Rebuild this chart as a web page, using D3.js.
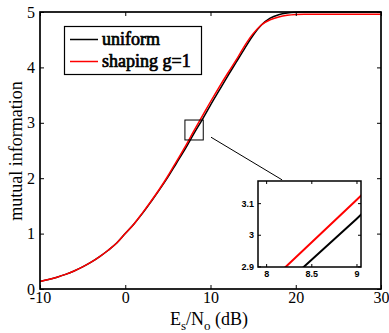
<!DOCTYPE html>
<html>
<head>
<meta charset="utf-8">
<script src="https://cdn.jsdelivr.net/npm/d3@7"></script>
<style>
  body { margin: 0; background: #fff; }
  svg { display: block; }
  .serif { font-family: 'Liberation Serif', 'Times New Roman', Times, serif; }
  .insetfont { font-family: 'Liberation Sans', Arial, Helvetica, sans-serif; font-weight: bold; }
</style>
</head>
<body>
<figure id="mi" style="margin:0"></figure>
<script>
// Es/N0 grid (dB) and mutual information
var snr = [-10, -9, -8, -7, -6, -5, -4, -3, -2, -1, 0, 1, 2, 3, 4, 5, 6, 7, 8, 9, 10,
           11, 12, 13, 14, 15, 16, 17, 18, 19, 20, 21, 22, 23, 24, 25, 26, 27, 28, 29, 30];
var uniform = [0.137, 0.17, 0.213, 0.264, 0.326, 0.40, 0.485, 0.585, 0.70, 0.83, 1.0,
               1.17, 1.36, 1.57, 1.79, 2.02, 2.27, 2.52, 2.79, 3.05, 3.32,
               3.58, 3.84, 4.09, 4.34, 4.58, 4.77, 4.89, 4.95, 4.98, 4.995,
               5.0, 5.0, 5.0, 5.0, 5.0, 5.0, 5.0, 5.0, 5.0, 5.0];
var shaping = [0.137, 0.17, 0.213, 0.264, 0.326, 0.40, 0.485, 0.585, 0.70, 0.83, 1.0,
               1.17, 1.37, 1.58, 1.80, 2.04, 2.30, 2.56, 2.84, 3.11, 3.38,
               3.64, 3.89, 4.13, 4.39, 4.61, 4.77, 4.86, 4.91, 4.94, 4.955,
               4.96, 4.96, 4.96, 4.96, 4.96, 4.96, 4.96, 4.96, 4.96, 4.96];
var seriesNames = ['uniform', 'shaping g=1'];
var seriesColors = ['#000000', '#ff0000'];

var xTicks = [-10, 0, 10, 20, 30];
var yTicks = [0, 1, 2, 3, 4, 5];
var insetXTicks = [8, 8.5, 9];
var insetYTicks = [2.9, 3, 3.1];

// zoom box drawn on the main plot and its pointer line (data units)
var zoomBox = {x0: 7.0, x1: 9.15, y0: 2.69, y1: 3.05};
var pointer = [[10.06, 2.74], [18.4, 1.97]];

var plain = function(d) { return String(d); };

var svg = d3.select('figure#mi').append('svg')
  .attr('width', 389)
  .attr('height', 333);
svg.append('rect').attr('width', 389).attr('height', 333).attr('fill', '#fff');

var x = d3.scaleLinear().domain([-10, 30]).range([40, 381]);
var y = d3.scaleLinear().domain([0, 5]).range([289, 12]);

svg.append('clipPath').attr('id', 'clipMain')
  .append('rect').attr('x', 40).attr('y', 10).attr('width', 341).attr('height', 279);

var data = seriesNames.map(function(name, i) {
  var vals = i == 0 ? uniform : shaping;
  return snr.map(function(s, j) { return {x: s, y: vals[j]}; });
});

var line = d3.line()
  .x(function(d) { return x(d.x); })
  .y(function(d) { return y(d.y); })
  .curve(d3.curveMonotoneX);

svg.append('g').attr('clip-path', 'url(#clipMain)')
  .selectAll('path')
  .data(data)
  .enter().append('path')
    .attr('d', line)
    .attr('fill', 'none')
    .attr('stroke', function(d, i) { return seriesColors[i]; })
    .attr('stroke-width', 1.5);

// axes, ticks pointing inwards
function styleAxis(g) {
  g.attr('font-family', null).attr('font-size', null);
  g.select('.domain').remove();
  g.selectAll('.tick line').attr('stroke', '#000').attr('stroke-width', 1);
  g.selectAll('text').classed('serif', true).style('font-size', '16px').attr('fill', '#000');
}
svg.append('g').attr('transform', 'translate(0,289)')
  .call(d3.axisBottom(x).tickValues(xTicks).tickSize(-4).tickPadding(3).tickFormat(plain))
  .call(styleAxis);
svg.append('g').attr('transform', 'translate(0,12)')
  .call(d3.axisTop(x).tickValues(xTicks).tickSize(-4).tickFormat(''))
  .call(styleAxis);
svg.append('g').attr('transform', 'translate(40,0)')
  .call(d3.axisLeft(y).tickValues(yTicks).tickSize(-4).tickPadding(5).tickFormat(plain))
  .call(styleAxis);
svg.append('g').attr('transform', 'translate(381,0)')
  .call(d3.axisRight(y).tickValues(yTicks).tickSize(-4).tickFormat(''))
  .call(styleAxis);

svg.append('rect')
  .attr('x', 40).attr('y', 12).attr('width', 341).attr('height', 277)
  .attr('fill', 'none').attr('stroke', '#000').attr('stroke-width', 1.7);

// axis labels
var xl = svg.append('text')
  .classed('serif', true)
  .attr('x', 209).attr('y', 325)
  .attr('text-anchor', 'middle')
  .style('font-size', '18px');
xl.append('tspan').text('E');
xl.append('tspan').attr('dy', 5).style('font-size', '13px').text('s');
xl.append('tspan').attr('dy', -5).text('/N');
xl.append('tspan').attr('dy', 5).style('font-size', '13px').text('o');
xl.append('tspan').attr('dy', -5).text(' (dB)');

svg.append('text')
  .classed('serif', true)
  .attr('transform', 'translate(22,151) rotate(-90)')
  .attr('text-anchor', 'middle')
  .style('font-size', '18px')
  .text('mutual information');

// legend (bold serif faked with a thin stroke)
var legend = svg.append('g');
legend.append('rect')
  .attr('x', 64.5).attr('y', 26.5).attr('width', 137).attr('height', 48)
  .attr('fill', '#fff').attr('stroke', '#000').attr('stroke-width', 1.2);
seriesNames.forEach(function(name, i) {
  var ly = 39.5 + i * 22;
  legend.append('line')
    .attr('x1', 70).attr('x2', 98).attr('y1', ly).attr('y2', ly)
    .attr('stroke', seriesColors[i]).attr('stroke-width', 1.5);
  legend.append('text')
    .classed('serif', true)
    .attr('x', 102).attr('y', ly + 5.5)
    .style('font-size', '18px')
    .attr('fill', '#000').attr('stroke', '#000').attr('stroke-width', 0.7)
    .text(name);
});

// zoom box and pointer
svg.append('rect')
  .attr('x', x(zoomBox.x0)).attr('y', y(zoomBox.y1))
  .attr('width', x(zoomBox.x1) - x(zoomBox.x0))
  .attr('height', y(zoomBox.y0) - y(zoomBox.y1))
  .attr('fill', 'none').attr('stroke', '#000').attr('stroke-width', 1);
svg.append('line')
  .attr('x1', x(pointer[0][0])).attr('y1', y(pointer[0][1]))
  .attr('x2', x(pointer[1][0])).attr('y2', y(pointer[1][1]))
  .attr('stroke', '#000').attr('stroke-width', 1);

// inset
var ix = d3.scaleLinear().domain([7.91, 9.05]).range([258, 361]);
var iy = d3.scaleLinear().domain([2.898, 3.17]).range([267, 181]);

svg.append('clipPath').attr('id', 'clipInset')
  .append('rect').attr('x', 258).attr('y', 181).attr('width', 103).attr('height', 86);

svg.append('rect')
  .attr('x', 258).attr('y', 181).attr('width', 103).attr('height', 86)
  .attr('fill', '#fff');

var iline = d3.line()
  .x(function(d) { return ix(d.x); })
  .y(function(d) { return iy(d.y); });

svg.append('g').attr('clip-path', 'url(#clipInset)')
  .selectAll('path')
  .data(data)
  .enter().append('path')
    .attr('d', iline)
    .attr('fill', 'none')
    .attr('stroke', function(d, i) { return seriesColors[i]; })
    .attr('stroke-width', 2);

function styleInset(g) {
  g.attr('font-family', null).attr('font-size', null);
  g.select('.domain').remove();
  g.selectAll('.tick line').attr('stroke', '#000').attr('stroke-width', 1);
  g.selectAll('text').classed('insetfont', true).style('font-size', '9px').attr('fill', '#000');
}
svg.append('g').attr('transform', 'translate(0,267)')
  .call(d3.axisBottom(ix).tickValues(insetXTicks).tickSize(-3).tickPadding(4).tickFormat(plain))
  .call(styleInset);
svg.append('g').attr('transform', 'translate(0,181)')
  .call(d3.axisTop(ix).tickValues(insetXTicks).tickSize(-3).tickFormat(''))
  .call(styleInset);
svg.append('g').attr('transform', 'translate(258,0)')
  .call(d3.axisLeft(iy).tickValues(insetYTicks).tickSize(-3).tickPadding(4).tickFormat(plain))
  .call(styleInset);
svg.append('g').attr('transform', 'translate(361,0)')
  .call(d3.axisRight(iy).tickValues(insetYTicks).tickSize(-3).tickFormat(''))
  .call(styleInset);

svg.append('rect')
  .attr('x', 258).attr('y', 181).attr('width', 103).attr('height', 86)
  .attr('fill', 'none').attr('stroke', '#000').attr('stroke-width', 1.5);
</script>
</body>
</html>
